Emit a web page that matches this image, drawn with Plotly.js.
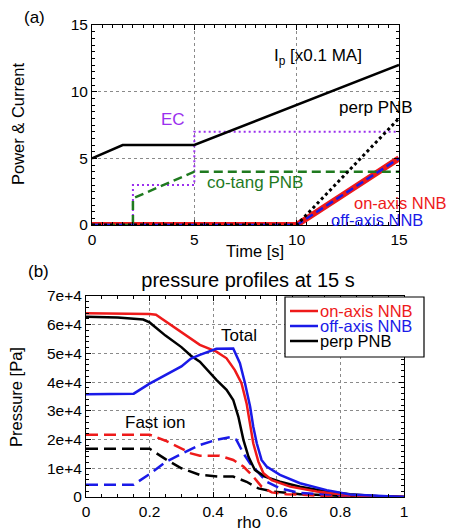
<!DOCTYPE html>
<html>
<head>
<meta charset="utf-8">
<script src="https://cdn.plot.ly/plotly-3.0.1.min.js"></script>
<style>html,body{margin:0;padding:0;background:#fff;}#chart{width:450px;height:531px;}</style>
</head>
<body>
<div id="chart"></div>
<script>
// ---------- Panel (a): power & current waveforms ----------
const tIp = [0, 1.5, 5, 15];
const ip = [5, 6, 6, 12];
const tEC = [0, 2, 2, 5, 5, 15];
const ec = [0, 0, 3, 3, 7, 7];
const tCoTang = [0, 2, 2, 5, 15];
const coTang = [0, 0, 2, 4, 4];
const tPerp = [0, 10, 15];
const perpPNB = [0, 0, 8];
const tNNB = [0, 10, 15];
const onAxisNNB = [0, 0, 5];
const offAxisNNB = [0, 0, 5];
const timeTicks = [0, 5, 10, 15];
const powerTicks = [0, 5, 10, 15];

// ---------- Panel (b): pressure profiles at 15 s ----------
const rhoOnTot = [0, 0.1, 0.2, 0.22, 0.26, 0.3, 0.34, 0.358, 0.41, 0.442, 0.468, 0.489, 0.505, 0.516, 0.526, 0.542, 0.558, 0.584, 0.642, 0.726, 0.83, 0.92, 1.0];
const pOnTot = [6.40e4, 6.39e4, 6.37e4, 6.35e4, 6.05e4, 5.75e4, 5.42e4, 5.30e4, 5.06e4, 4.83e4, 4.42e4, 3.96e4, 3.26e4, 2.57e4, 1.87e4, 1.23e4, 0.83e4, 0.59e4, 0.36e4, 0.19e4, 0.06e4, 0.02e4, 0];
const rhoOffTot = [0, 0.1, 0.15, 0.2, 0.25, 0.3, 0.33, 0.358, 0.41, 0.463, 0.484, 0.5, 0.516, 0.526, 0.537, 0.552, 0.568, 0.584, 0.61, 0.673, 0.757, 0.83, 0.92, 1.0];
const pOffTot = [3.58e4, 3.58e4, 3.60e4, 3.95e4, 4.25e4, 4.55e4, 4.82e4, 4.95e4, 5.16e4, 5.17e4, 4.66e4, 3.96e4, 3.15e4, 2.45e4, 1.87e4, 1.29e4, 1.06e4, 0.94e4, 0.77e4, 0.48e4, 0.24e4, 0.09e4, 0.03e4, 0];
const rhoPerpTot = [0, 0.1, 0.18, 0.2, 0.25, 0.3, 0.33, 0.358, 0.41, 0.442, 0.463, 0.479, 0.495, 0.511, 0.531, 0.563, 0.61, 0.673, 0.757, 0.83, 0.92, 1.0];
const pPerpTot = [6.28e4, 6.25e4, 6.18e4, 6.08e4, 5.62e4, 5.22e4, 4.92e4, 4.71e4, 4.08e4, 3.73e4, 3.38e4, 2.80e4, 1.99e4, 1.40e4, 0.94e4, 0.71e4, 0.53e4, 0.36e4, 0.19e4, 0.10e4, 0.03e4, 0];
const rhoOnFast = [0, 0.2, 0.25, 0.3, 0.33, 0.358, 0.42, 0.463, 0.495, 0.526, 0.552, 0.584, 0.63, 0.75, 1.0];
const pOnFast = [2.17e4, 2.17e4, 1.96e4, 1.68e4, 1.52e4, 1.44e4, 1.44e4, 1.29e4, 1.06e4, 0.71e4, 0.36e4, 0.16e4, 0.10e4, 0.04e4, 0];
const rhoOffFast = [0, 0.15, 0.2, 0.25, 0.3, 0.358, 0.41, 0.452, 0.473, 0.495, 0.516, 0.542, 0.568, 0.61, 0.673, 0.778, 1.0];
const pOffFast = [0.43e4, 0.43e4, 0.80e4, 1.22e4, 1.50e4, 1.81e4, 1.99e4, 2.08e4, 1.99e4, 1.52e4, 1.17e4, 0.83e4, 0.53e4, 0.30e4, 0.14e4, 0.08e4, 0];
const rhoPerpFast = [0, 0.2, 0.25, 0.3, 0.358, 0.42, 0.463, 0.505, 0.542, 0.589, 0.673, 0.8, 1.0];
const pPerpFast = [1.68e4, 1.68e4, 1.32e4, 1.00e4, 0.77e4, 0.71e4, 0.71e4, 0.53e4, 0.30e4, 0.19e4, 0.10e4, 0.04e4, 0];
const rhoTicks = [0, 0.2, 0.4, 0.6, 0.8, 1];
const rhoTickText = ['0', '0.2', '0.4', '0.6', '0.8', '1'];
const pressTicks = [0, 1e4, 2e4, 3e4, 4e4, 5e4, 6e4, 7e4];
const pressTickText = ['0', '1e+4', '2e+4', '3e+4', '4e+4', '5e+4', '6e+4', '7e+4'];
const legendNames = ['on-axis NNB', 'off-axis NNB', 'perp PNB'];

// ---------- styling ----------
const FONT = 'Liberation Sans, Arial, Helvetica, sans-serif';
const RED = '#ee1a1a', BLUE = '#1a1ae8', BLACK = '#000000', GREEN = '#1f7a1f', PURPLE = '#9b30ee';
const W = 450, H = 531;
const px = v => v / W;
const py = v => 1 - v / H;

const traces = [
  // panel (a)
  {x: tNNB, y: onAxisNNB, xaxis: 'x', yaxis: 'y', mode: 'lines', line: {color: RED, width: 6}, name: 'on-axis NNB'},
  {x: tEC, y: ec, xaxis: 'x', yaxis: 'y', mode: 'lines', line: {color: PURPLE, width: 2, dash: '2px,3px'}, name: 'EC'},
  {x: tCoTang, y: coTang, xaxis: 'x', yaxis: 'y', mode: 'lines', line: {color: GREEN, width: 2.5, dash: '9px,5px'}, name: 'co-tang PNB'},
  {x: tNNB, y: offAxisNNB, xaxis: 'x', yaxis: 'y', mode: 'lines', line: {color: BLUE, width: 2.5, dash: '8px,4px'}, name: 'off-axis NNB'},
  {x: tPerp, y: perpPNB, xaxis: 'x', yaxis: 'y', mode: 'lines', line: {color: BLACK, width: 3, dash: '3px,3px'}, name: 'perp PNB'},
  {x: tIp, y: ip, xaxis: 'x', yaxis: 'y', mode: 'lines', line: {color: BLACK, width: 2.5}, name: 'Ip'},
  // panel (b) fast ion (dashed)
  {x: rhoPerpFast, y: pPerpFast, xaxis: 'x2', yaxis: 'y2', mode: 'lines', line: {color: BLACK, width: 2.5, dash: '12px,6px'}, name: 'perp fast'},
  {x: rhoOnFast, y: pOnFast, xaxis: 'x2', yaxis: 'y2', mode: 'lines', line: {color: RED, width: 2.5, dash: '12px,6px'}, name: 'on fast'},
  {x: rhoOffFast, y: pOffFast, xaxis: 'x2', yaxis: 'y2', mode: 'lines', line: {color: BLUE, width: 2.5, dash: '12px,6px'}, name: 'off fast'},
  // panel (b) totals
  {x: rhoPerpTot, y: pPerpTot, xaxis: 'x2', yaxis: 'y2', mode: 'lines', line: {color: BLACK, width: 2.5}, name: legendNames[2]},
  {x: rhoOnTot, y: pOnTot, xaxis: 'x2', yaxis: 'y2', mode: 'lines', line: {color: RED, width: 2.5}, name: legendNames[0]},
  {x: rhoOffTot, y: pOffTot, xaxis: 'x2', yaxis: 'y2', mode: 'lines', line: {color: BLUE, width: 2.5}, name: legendNames[1]}
];

const axisCommon = {
  showline: true, linecolor: '#000', linewidth: 1, mirror: 'allticks',
  ticks: 'inside', ticklen: 5, tickwidth: 1, tickcolor: '#000',
  showgrid: true, gridcolor: '#8a8a8a', gridwidth: 1, griddash: 'dot',
  zeroline: false, tickfont: {family: FONT, size: 15.5, color: '#000'},
  fixedrange: true
};

const layout = {
  width: W, height: H,
  margin: {l: 0, r: 0, t: 0, b: 0, pad: 0},
  paper_bgcolor: '#fff', plot_bgcolor: '#fff',
  showlegend: false,
  font: {family: FONT, color: '#000'},
  title: {text: 'pressure profiles at 15 s', x: px(248), y: py(280), xref: 'container', yref: 'container',
          xanchor: 'center', yanchor: 'middle', font: {family: FONT, size: 20, color: '#000'}},
  xaxis: Object.assign({}, axisCommon, {domain: [px(92), px(399)], range: [0, 15], anchor: 'y',
          tickvals: timeTicks, ticktext: timeTicks.map(String),
          minor: {dtick: 0.5, ticklen: 3, tickcolor: '#000', ticks: 'inside', showgrid: false}}),
  yaxis: Object.assign({}, axisCommon, {domain: [py(225), py(25)], range: [0, 15], anchor: 'x',
          tickvals: powerTicks, ticktext: powerTicks.map(String),
          minor: {dtick: 0.5, ticklen: 3, tickcolor: '#000', ticks: 'inside', showgrid: false}}),
  xaxis2: Object.assign({}, axisCommon, {domain: [px(86), px(404)], range: [0, 1], anchor: 'y2',
          tickvals: rhoTicks, ticktext: rhoTickText,
          minor: {dtick: 0.05, ticklen: 3, tickcolor: '#000', ticks: 'inside', showgrid: false}}),
  yaxis2: Object.assign({}, axisCommon, {domain: [py(497), py(296)], range: [0, 7e4], anchor: 'x2',
          tickvals: pressTicks, ticktext: pressTickText,
          minor: {dtick: 2000, ticklen: 3, tickcolor: '#000', ticks: 'inside', showgrid: false}}),
  shapes: [
    {type: 'rect', xref: 'paper', yref: 'paper', x0: px(285), x1: px(424), y0: py(357), y1: py(297),
     line: {color: '#000', width: 1.2}, fillcolor: '#fff', layer: 'above'},
    {type: 'line', xref: 'paper', yref: 'paper', x0: px(290), x1: px(318), y0: py(311), y1: py(311), line: {color: RED, width: 2.5}, layer: 'above'},
    {type: 'line', xref: 'paper', yref: 'paper', x0: px(290), x1: px(318), y0: py(326), y1: py(326), line: {color: BLUE, width: 2.5}, layer: 'above'},
    {type: 'line', xref: 'paper', yref: 'paper', x0: px(290), x1: px(318), y0: py(341), y1: py(341), line: {color: BLACK, width: 2.5}, layer: 'above'}
  ],
  annotations: []
};

function ann(text, x, y, opts) {
  return Object.assign({text: text, x: x, y: y, showarrow: false, xanchor: 'left', yanchor: 'middle',
    font: {family: FONT, size: 17, color: '#000'}}, opts || {});
}
const A = layout.annotations;
// panel labels
A.push(ann('(a)', px(34), py(17), {xref: 'paper', yref: 'paper', xanchor: 'center'}));
A.push(ann('(b)', px(38), py(271), {xref: 'paper', yref: 'paper', xanchor: 'center'}));
// axis titles
A.push(ann('Time [s]', px(255), py(251), {xref: 'paper', yref: 'paper', xanchor: 'center', font: {family: FONT, size: 16.5, color: '#000'}}));
A.push(ann('Power &amp; Current', px(18), py(124), {xref: 'paper', yref: 'paper', xanchor: 'center', textangle: -90, font: {family: FONT, size: 16.5, color: '#000'}}));
A.push(ann('rho', px(249), py(522), {xref: 'paper', yref: 'paper', xanchor: 'center', font: {family: FONT, size: 16.5, color: '#000'}}));
A.push(ann('Pressure [Pa]', px(16), py(397), {xref: 'paper', yref: 'paper', xanchor: 'center', textangle: -90, font: {family: FONT, size: 16.5, color: '#000'}}));
// panel (a) line labels
A.push(ann('I<sub>p</sub> [x0.1 MA]', 8.8, 12.6, {xref: 'x', yref: 'y'}));
A.push(ann('perp PNB', 11.95, 8.85, {xref: 'x', yref: 'y'}));
A.push(ann('EC', 3.98, 7.9, {xref: 'x', yref: 'y', xanchor: 'center', font: {family: FONT, size: 17, color: PURPLE}}));
A.push(ann('co-tang PNB', 5.5, 3.2, {xref: 'x', yref: 'y', font: {family: FONT, size: 17, color: GREEN}}));
A.push(ann('on-axis NNB', 12.68, 1.65, {xref: 'x', yref: 'y', font: {family: FONT, size: 16.5, color: RED}}));
A.push(ann('off-axis NNB', 11.6, 0.4, {xref: 'x', yref: 'y', font: {family: FONT, size: 16.5, color: BLUE}}));
// panel (b) labels
A.push(ann('Total', 0.481, 5.64e4, {xref: 'x2', yref: 'y2', xanchor: 'center'}));
A.push(ann('Fast ion', 0.217, 2.58e4, {xref: 'x2', yref: 'y2', xanchor: 'center'}));
// legend texts
A.push(ann(legendNames[0], px(318), py(311), {xref: 'paper', yref: 'paper', font: {family: FONT, size: 16.5, color: RED}}));
A.push(ann(legendNames[1], px(318), py(326), {xref: 'paper', yref: 'paper', font: {family: FONT, size: 16.5, color: BLUE}}));
A.push(ann(legendNames[2], px(318), py(341), {xref: 'paper', yref: 'paper', font: {family: FONT, size: 16.5, color: BLACK}}));

Plotly.newPlot('chart', traces, layout, {staticPlot: true, displayModeBar: false});
</script>
</body>
</html>
